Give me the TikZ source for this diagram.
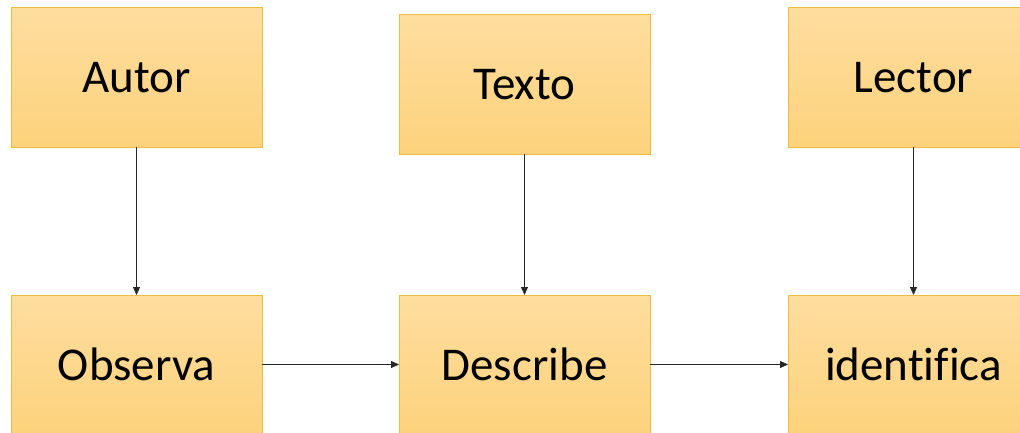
\documentclass[tikz,border=0pt]{standalone}
\usepackage{fontspec}
\setmainfont[Ligatures=NoCommon]{Carlito}
\usepackage{tikz}
\usetikzlibrary{arrows.meta, positioning}
\definecolor{boxTop}{RGB}{254, 221, 158}
\definecolor{boxBottom}{RGB}{253, 210, 124}
\definecolor{boxBorder}{RGB}{236, 190, 64}

\begin{document}
\begin{tikzpicture}[
    x=1pt, y=1pt,
    box/.style={rectangle, draw=boxBorder, line width=1pt, top color=boxTop, bottom color=boxBottom, minimum width=251pt, minimum height=139pt, outer sep=0pt, inner sep=0pt, align=center, font=\fontsize{47}{56}\selectfont},
    arrow/.style={-{Triangle[length=8pt, width=7pt]}, line width=0.8pt, black!85}
]
    \useasboundingbox (0,0) rectangle (1020,432);
    \clip (0,0) rectangle (1020,432);

    % Boxes
    \node[box] (autor) at (136.5,354.5) {Autor};
    \node[box, below=148pt of autor] (observa) {Observa};
    \node[box, right=137pt of observa] (describe) {Describe};
    \node[box, right=138pt of describe] (identifica) {identifica};
    \node[box, above=141pt of describe] (texto) {Texto};
    \node[box, above=148pt of identifica] (lector) {Lector};

    % Arrows
    \draw[arrow] (autor) -- (observa);
    \draw[arrow] (texto) -- (describe);
    \draw[arrow] (lector) -- (identifica);
    \draw[arrow] (observa) -- (describe);
    \draw[arrow] (describe) -- (identifica);

\end{tikzpicture}
\end{document}
